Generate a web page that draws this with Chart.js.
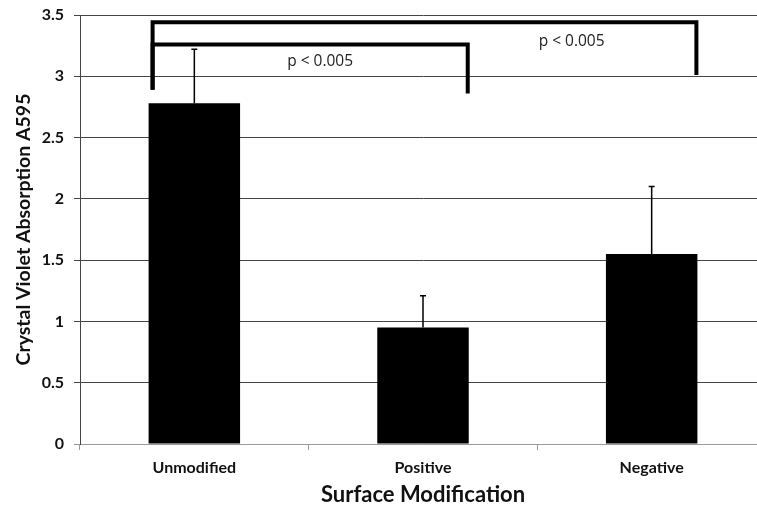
<!DOCTYPE html>
<html>
<head>
<meta charset="utf-8">
<script src="https://cdn.jsdelivr.net/npm/chart.js@4.4.1/dist/chart.umd.min.js"></script>
<style>
  html, body { margin: 0; padding: 0; background: #fff; overflow: hidden; }
  #wrap { width: 766px; height: 508px; }
</style>
</head>
<body>
<div id="wrap"><canvas id="chart"></canvas></div>
<script>
var categories = ['Unmodified', 'Positive', 'Negative'];
var means = [2.78, 0.95, 1.55];
var errorTops = [3.22, 1.21, 2.10];
var yTicks = [0, 0.5, 1, 1.5, 2, 2.5, 3, 3.5];

// significance brackets: from bar, to bar, top level, leg bottoms, label
var bracketFrom = [0, 0];
var bracketTo = [1, 2];
var bracketTop = [3.26, 3.44];
var bracketLeftEnd = [2.89, 2.89];
var bracketRightEnd = [2.86, 3.01];
var bracketLabels = ['p < 0.005', 'p < 0.005'];
var labelX = [0.55, 1.65];
var labelY = [3.12, 3.28];

var fontFamily = "Lato, 'Open Sans', sans-serif";

var errorBars = {
    id: 'errorBars',
    afterDatasetsDraw: function(chart) {
        var ctx = chart.ctx;
        var y = chart.scales.y;
        var meta = chart.getDatasetMeta(0);
        ctx.save();
        ctx.strokeStyle = '#000';
        ctx.lineWidth = 1.5;
        meta.data.forEach(function(bar, i) {
            var top = y.getPixelForValue(errorTops[i]);
            ctx.beginPath();
            ctx.moveTo(bar.x, bar.y);
            ctx.lineTo(bar.x, top);
            ctx.moveTo(bar.x - 3, top);
            ctx.lineTo(bar.x + 3, top);
            ctx.stroke();
        });
        ctx.restore();
    }
};

var brackets = {
    id: 'brackets',
    afterDatasetsDraw: function(chart) {
        var ctx = chart.ctx;
        var x = chart.scales.x;
        var y = chart.scales.y;
        var meta = chart.getDatasetMeta(0);
        ctx.save();
        ctx.strokeStyle = '#000';
        ctx.lineWidth = 4;
        ctx.lineJoin = 'miter';
        ctx.lineCap = 'butt';
        for (var i = 0; i < bracketFrom.length; i++) {
            var a = meta.data[bracketFrom[i]];
            var b = meta.data[bracketTo[i]];
            var x1 = a.x - a.width / 2 + 4;
            var x2 = b.x + b.width / 2 - 1;
            ctx.beginPath();
            ctx.moveTo(x1, y.getPixelForValue(bracketLeftEnd[i]));
            ctx.lineTo(x1, y.getPixelForValue(bracketTop[i]));
            ctx.lineTo(x2, y.getPixelForValue(bracketTop[i]));
            ctx.lineTo(x2, y.getPixelForValue(bracketRightEnd[i]));
            ctx.stroke();
        }
        ctx.fillStyle = '#222';
        ctx.font = "15.5px 'Open Sans', sans-serif";
        ctx.textAlign = 'center';
        ctx.textBaseline = 'middle';
        for (var j = 0; j < bracketLabels.length; j++) {
            ctx.fillText(bracketLabels[j], x.getPixelForValue(labelX[j]), y.getPixelForValue(labelY[j]));
        }
        ctx.restore();
    }
};

new Chart(document.getElementById('chart'), {
    type: 'bar',
    data: {
        labels: categories,
        datasets: [{
            data: means,
            backgroundColor: '#000',
            borderWidth: 0,
            categoryPercentage: 1,
            barPercentage: 0.4
        }]
    },
    options: {
        responsive: true,
        maintainAspectRatio: false,
        animation: false,
        layout: { padding: { top: 15, right: 0, left: 0, bottom: 0 } },
        plugins: {
            legend: { display: false },
            tooltip: { enabled: false }
        },
        scales: {
            x: {
                grid: { drawOnChartArea: false, offset: true, tickLength: 6, color: '#999' },
                border: { color: '#999' },
                ticks: {
                    color: '#111',
                    padding: 8,
                    font: { family: fontFamily, size: 16, weight: 'bold' }
                },
                title: {
                    display: true,
                    text: 'Surface Modification',
                    color: '#111',
                    padding: { top: 0, bottom: 0 },
                    font: { family: fontFamily, size: 22, weight: 'bold' }
                },
                afterFit: function(scale) {
                    scale.height = 64;
                    scale.paddingLeft = 0;
                    scale.paddingRight = 0;
                }
            },
            y: {
                min: 0,
                max: 3.5,
                afterBuildTicks: function(scale) {
                    scale.ticks = yTicks.map(function(v) { return { value: v }; });
                },
                grid: {
                    tickLength: 6,
                    color: function(c) { return c.index === 0 ? '#999' : '#444'; }
                },
                border: { color: '#444' },
                ticks: {
                    color: '#111',
                    padding: 10,
                    font: { family: fontFamily, size: 16, weight: 'bold' },
                    callback: function(v) { return String(v); }
                },
                title: {
                    display: true,
                    text: 'Crystal Violet Absorption A595',
                    color: '#111',
                    padding: { top: 12, bottom: 0 },
                    font: { family: fontFamily, size: 19.5, weight: 'bold' }
                },
                afterFit: function(scale) {
                    scale.width = 80;
                    scale.paddingTop = 0;
                    scale.paddingBottom = 0;
                }
            }
        }
    },
    plugins: [errorBars, brackets]
});
</script>
</body>
</html>
